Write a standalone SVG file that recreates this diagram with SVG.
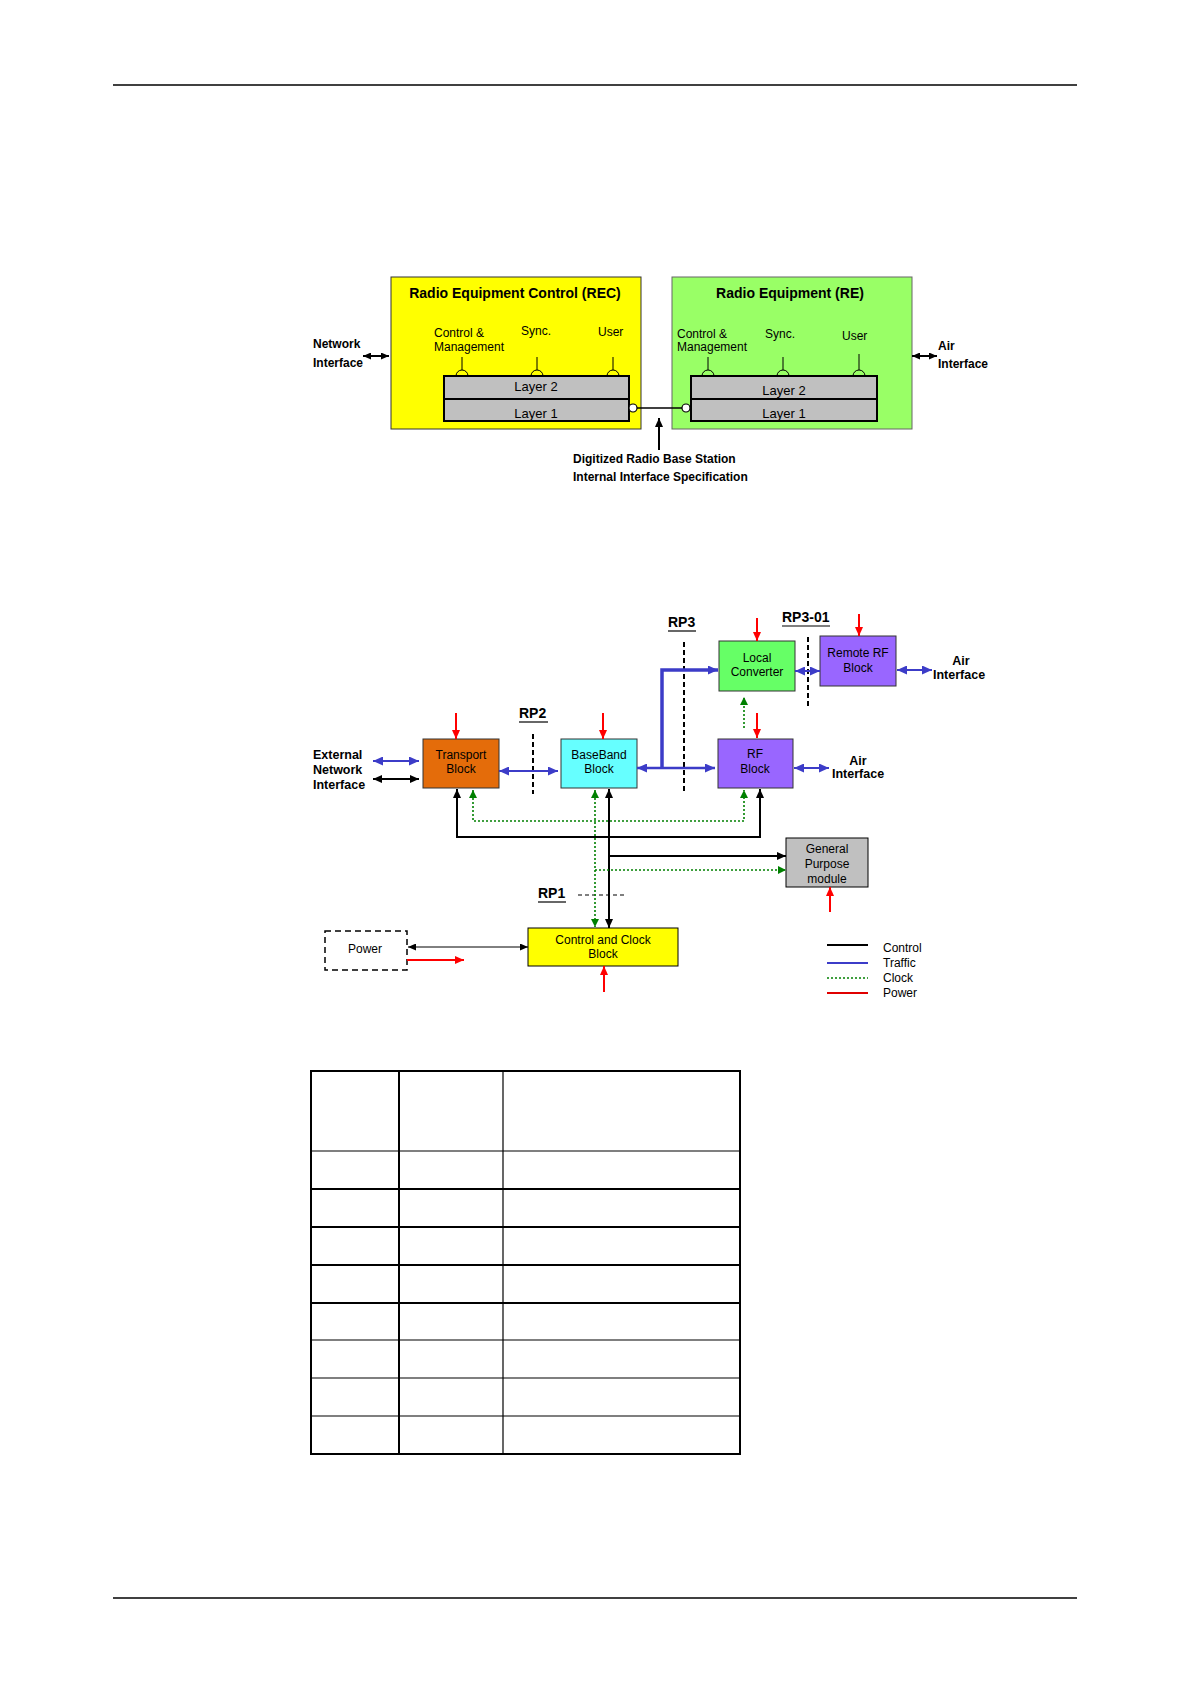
<svg xmlns="http://www.w3.org/2000/svg" width="1190" height="1684" viewBox="0 0 1190 1684">
<style>
text{font-family:"Liberation Sans",Arial,sans-serif;fill:#000}
.t{font-size:14px;font-weight:bold}
.s{font-size:12px}
.sb{font-size:12px;font-weight:bold}
.eb{font-size:12.5px;font-weight:bold}
.l{font-size:13px}
.rp{font-size:14px;font-weight:bold}
.blk{stroke:#000;fill:none}
.blu{stroke:#3c3cc8;fill:none}
.red{stroke:#ff0000;fill:none;stroke-width:2}
.grn{stroke:#008000;fill:none;stroke-width:1.6;stroke-dasharray:2,2}
.dash{stroke:#000;stroke-width:2;stroke-dasharray:5,3;fill:none}
.tk{stroke:#000;stroke-width:2}
.tn{stroke:#000;stroke-width:1.2}
</style>
<defs>
<marker id="ab" markerUnits="userSpaceOnUse" markerWidth="10" markerHeight="9" refX="10" refY="4.5" orient="auto-start-reverse"><path d="M0,0 L10,4.5 L0,9 z" fill="#3c3cc8"/></marker>
<marker id="ak" markerUnits="userSpaceOnUse" markerWidth="9" markerHeight="8" refX="9" refY="4" orient="auto-start-reverse"><path d="M0,0 L9,4 L0,8 z" fill="#000"/></marker>
<marker id="aks" markerUnits="userSpaceOnUse" markerWidth="8" markerHeight="7" refX="8" refY="3.5" orient="auto-start-reverse"><path d="M0,0 L8,3.5 L0,7 z" fill="#000"/></marker>
<marker id="ar" markerUnits="userSpaceOnUse" markerWidth="9" markerHeight="8" refX="9" refY="4" orient="auto-start-reverse"><path d="M0,0 L9,4 L0,8 z" fill="#ff0000"/></marker>
<marker id="ag" markerUnits="userSpaceOnUse" markerWidth="8" markerHeight="8" refX="8" refY="4" orient="auto-start-reverse"><path d="M0,0 L8,4 L0,8 z" fill="#008000"/></marker>
</defs>
<rect width="1190" height="1684" fill="#fff"/>

<!-- page rules -->
<line x1="113" y1="85" x2="1077" y2="85" stroke="#000" stroke-width="1.5"/>
<line x1="113" y1="1598" x2="1077" y2="1598" stroke="#000" stroke-width="1.5"/>

<!-- ===== Diagram 1 ===== -->
<g id="rec">
<rect x="391" y="277" width="250" height="152" fill="#ffff00" stroke="#333" stroke-width="1"/>
<text class="t" x="515" y="298" text-anchor="middle">Radio Equipment Control (REC)</text>
<text class="s" x="434" y="337">Control &amp;</text>
<text class="s" x="434" y="351">Management</text>
<text class="s" x="521" y="335">Sync.</text>
<text class="s" x="598" y="336">User</text>
<g stroke="#000" stroke-width="1" fill="none">
<line x1="462" y1="357" x2="462" y2="370"/><path d="M456,376 A6,6 0 0 1 468,376"/>
<line x1="537" y1="357" x2="537" y2="370"/><path d="M531,376 A6,6 0 0 1 543,376"/>
<line x1="613" y1="357" x2="613" y2="370"/><path d="M607,376 A6,6 0 0 1 619,376"/>
</g>
<rect x="444" y="376" width="185" height="45" fill="#c0c0c0" stroke="#000" stroke-width="2"/>
<line x1="444" y1="399" x2="629" y2="399" class="tk"/>
<text class="l" x="536" y="391" text-anchor="middle">Layer 2</text>
<text class="l" x="536" y="418" text-anchor="middle">Layer 1</text>
</g>
<g id="re">
<rect x="672" y="277" width="240" height="152" fill="#99ff66" stroke="#666" stroke-width="1"/>
<text class="t" x="790" y="298" text-anchor="middle">Radio Equipment (RE)</text>
<text class="s" x="677" y="338">Control &amp;</text>
<text class="s" x="677" y="351">Management</text>
<text class="s" x="765" y="338">Sync.</text>
<text class="s" x="842" y="340">User</text>
<g stroke="#000" stroke-width="1" fill="none">
<line x1="708" y1="357" x2="708" y2="370"/><path d="M702,376 A6,6 0 0 1 714,376"/>
<line x1="783" y1="357" x2="783" y2="370"/><path d="M777,376 A6,6 0 0 1 789,376"/>
<line x1="859" y1="354" x2="859" y2="370"/><path d="M853,376 A6,6 0 0 1 865,376"/>
</g>
<rect x="691" y="376" width="186" height="45" fill="#c0c0c0" stroke="#000" stroke-width="2"/>
<line x1="691" y1="399" x2="877" y2="399" class="tk"/>
<text class="l" x="784" y="395" text-anchor="middle">Layer 2</text>
<text class="l" x="784" y="418" text-anchor="middle">Layer 1</text>
</g>
<g id="labels1">
<text class="sb" x="313" y="348">Network</text>
<text class="sb" x="313" y="367">Interface</text>
<text class="sb" x="938" y="350">Air</text>
<text class="sb" x="938" y="368">Interface</text>
<text class="sb" x="573" y="463">Digitized Radio Base Station</text>
<text class="sb" x="573" y="481">Internal Interface Specification</text>
</g>
<g id="connectors1">
<line x1="637" y1="408" x2="682" y2="408" stroke="#000" stroke-width="1.5"/>
<circle cx="633" cy="408" r="4" fill="#fff" stroke="#000" stroke-width="1.2"/>
<circle cx="686" cy="408" r="4" fill="#fff" stroke="#000" stroke-width="1.2"/>
<line x1="659" y1="450" x2="659" y2="418" class="blk" stroke-width="2" marker-end="url(#ak)"/>
<line x1="363" y1="356" x2="389" y2="356" class="blk" stroke-width="2" marker-start="url(#aks)" marker-end="url(#aks)"/>
<line x1="912" y1="356" x2="937" y2="356" class="blk" stroke-width="2" marker-start="url(#aks)" marker-end="url(#aks)"/>
</g>

<!-- ===== Diagram 2 ===== -->
<g id="rp-labels">
<text class="rp" x="668" y="627">RP3</text><line x1="668" y1="631" x2="696" y2="631" class="tn"/>
<text class="rp" x="519" y="718">RP2</text><line x1="519" y1="722" x2="548" y2="722" class="tn"/>
<text class="rp" x="782" y="622">RP3-01</text><line x1="782" y1="626" x2="830" y2="626" class="tn"/>
<text class="rp" x="538" y="898">RP1</text><line x1="538" y1="902" x2="566" y2="902" class="tn"/>
<line x1="684" y1="642" x2="684" y2="793" class="dash"/>
<line x1="533" y1="734" x2="533" y2="794" class="dash"/>
<line x1="808" y1="637" x2="808" y2="706" class="dash"/>
<line x1="578" y1="895" x2="626" y2="895" stroke="#000" stroke-width="1.2" stroke-dasharray="4,3"/>
</g>
<g id="transport">
<rect x="423" y="739" width="76" height="49" fill="#e46c0a" stroke="#333" stroke-width="1"/>
<text class="s" x="461" y="759" text-anchor="middle" fill="#333">Transport</text>
<text class="s" x="461" y="773" text-anchor="middle" fill="#333">Block</text>
</g>
<g id="baseband">
<rect x="561" y="739" width="76" height="49" fill="#66ffff" stroke="#333" stroke-width="1"/>
<text class="s" x="599" y="759" text-anchor="middle">BaseBand</text>
<text class="s" x="599" y="773" text-anchor="middle">Block</text>
</g>
<g id="rf">
<rect x="718" y="739" width="75" height="49" fill="#9966ff" stroke="#333" stroke-width="1"/>
<text class="s" x="755" y="758" text-anchor="middle">RF</text>
<text class="s" x="755" y="773" text-anchor="middle">Block</text>
</g>
<g id="local-converter">
<rect x="719" y="641" width="76" height="50" fill="#66ff66" stroke="#333" stroke-width="1"/>
<text class="s" x="757" y="662" text-anchor="middle">Local</text>
<text class="s" x="757" y="676" text-anchor="middle">Converter</text>
</g>
<g id="remote-rf">
<rect x="820" y="636" width="76" height="50" fill="#9966ff" stroke="#333" stroke-width="1"/>
<text class="s" x="858" y="657" text-anchor="middle">Remote RF</text>
<text class="s" x="858" y="672" text-anchor="middle">Block</text>
</g>
<g id="gpm">
<rect x="786" y="838" width="82" height="49" fill="#c0c0c0" stroke="#000" stroke-width="1"/>
<text class="s" x="827" y="853" text-anchor="middle">General</text>
<text class="s" x="827" y="868" text-anchor="middle">Purpose</text>
<text class="s" x="827" y="883" text-anchor="middle">module</text>
</g>
<g id="ccb">
<rect x="528" y="928" width="150" height="38" fill="#ffff00" stroke="#000" stroke-width="1"/>
<text class="s" x="603" y="944" text-anchor="middle">Control and Clock</text>
<text class="s" x="603" y="958" text-anchor="middle">Block</text>
</g>
<g id="power">
<rect x="325" y="931" width="82" height="39" fill="none" stroke="#000" stroke-width="1.5" stroke-dasharray="6,4"/>
<text class="s" x="365" y="953" text-anchor="middle" fill="#222">Power</text>
</g>
<g id="labels2">
<text class="eb" x="313" y="759">External</text>
<text class="eb" x="313" y="774">Network</text>
<text class="eb" x="313" y="789">Interface</text>
<text class="eb" x="961" y="665" text-anchor="middle">Air</text>
<text class="eb" x="933" y="679">Interface</text>
<text class="eb" x="858" y="765" text-anchor="middle">Air</text>
<text class="eb" x="832" y="778">Interface</text>
</g>
<g id="connectors2">
<!-- traffic -->
<line x1="373" y1="761" x2="419" y2="761" class="blu" stroke-width="2" marker-start="url(#ab)" marker-end="url(#ab)"/>
<line x1="499" y1="771" x2="558" y2="771" class="blu" stroke-width="2" marker-start="url(#ab)" marker-end="url(#ab)"/>
<line x1="637" y1="768" x2="715" y2="768" class="blu" stroke-width="2.5" marker-start="url(#ab)" marker-end="url(#ab)"/>
<path d="M662,768 V670 H718" class="blu" stroke-width="3.5" marker-end="url(#ab)"/>
<line x1="795" y1="671" x2="820" y2="671" class="blu" stroke-width="2" marker-start="url(#ab)" marker-end="url(#ab)"/>
<line x1="897" y1="670" x2="932" y2="670" class="blu" stroke-width="2" marker-start="url(#ab)" marker-end="url(#ab)"/>
<line x1="794" y1="768" x2="829" y2="768" class="blu" stroke-width="2" marker-start="url(#ab)" marker-end="url(#ab)"/>
<!-- control -->
<line x1="373" y1="779" x2="419" y2="779" class="blk" stroke-width="2" marker-start="url(#ak)" marker-end="url(#ak)"/>
<path d="M457,789 V837 H760 V789" class="blk" stroke-width="2" marker-start="url(#ak)" marker-end="url(#ak)"/>
<line x1="609" y1="789" x2="609" y2="928" class="blk" stroke-width="2" marker-start="url(#ak)" marker-end="url(#ak)"/>
<path d="M609,856 H786" class="blk" stroke-width="2" marker-end="url(#ak)"/>
<line x1="408" y1="947" x2="528" y2="947" class="blk" stroke-width="1" marker-start="url(#aks)" marker-end="url(#aks)"/>
<!-- clock -->
<path d="M473,790 V821 H744 V790" class="grn" marker-start="url(#ag)" marker-end="url(#ag)"/>
<line x1="595" y1="790" x2="595" y2="927" class="grn" marker-start="url(#ag)" marker-end="url(#ag)"/>
<path d="M595,870 H786" class="grn" marker-end="url(#ag)"/>
<line x1="744" y1="728" x2="744" y2="697" class="grn" marker-end="url(#ag)"/>
<!-- power -->
<line x1="456" y1="713" x2="456" y2="739" class="red" marker-end="url(#ar)"/>
<line x1="603" y1="713" x2="603" y2="739" class="red" marker-end="url(#ar)"/>
<line x1="757" y1="713" x2="757" y2="738" class="red" marker-end="url(#ar)"/>
<line x1="757" y1="618" x2="757" y2="641" class="red" marker-end="url(#ar)"/>
<line x1="859" y1="614" x2="859" y2="636" class="red" marker-end="url(#ar)"/>
<line x1="830" y1="912" x2="830" y2="887" class="red" marker-end="url(#ar)"/>
<line x1="604" y1="992" x2="604" y2="966" class="red" marker-end="url(#ar)"/>
<line x1="407" y1="960" x2="464" y2="960" class="red" marker-end="url(#ar)"/>
</g>
<g id="legend">
<line x1="827" y1="945" x2="868" y2="945" stroke="#000" stroke-width="2"/>
<line x1="827" y1="963" x2="868" y2="963" stroke="#3c3cc8" stroke-width="2"/>
<line x1="827" y1="978" x2="868" y2="978" class="grn"/>
<line x1="827" y1="993" x2="868" y2="993" stroke="#e00000" stroke-width="2"/>
<text class="s" x="883" y="952">Control</text>
<text class="s" x="883" y="967">Traffic</text>
<text class="s" x="883" y="982">Clock</text>
<text class="s" x="883" y="997">Power</text>
</g>

<!-- ===== Table ===== -->
<g id="table">
<line x1="311" y1="1151" x2="740" y2="1151" class="tn"/>
<line x1="311" y1="1189" x2="740" y2="1189" class="tk"/>
<line x1="311" y1="1227" x2="740" y2="1227" class="tk"/>
<line x1="311" y1="1265" x2="740" y2="1265" class="tk"/>
<line x1="311" y1="1303" x2="740" y2="1303" class="tk"/>
<line x1="311" y1="1340" x2="740" y2="1340" class="tn"/>
<line x1="311" y1="1378" x2="740" y2="1378" class="tn"/>
<line x1="311" y1="1416" x2="740" y2="1416" class="tn"/>
<line x1="399" y1="1071" x2="399" y2="1454" class="tk"/>
<line x1="503" y1="1071" x2="503" y2="1454" class="tn"/>
<rect x="311" y="1071" width="429" height="383" fill="none" stroke="#000" stroke-width="2"/>
</g>
</svg>
